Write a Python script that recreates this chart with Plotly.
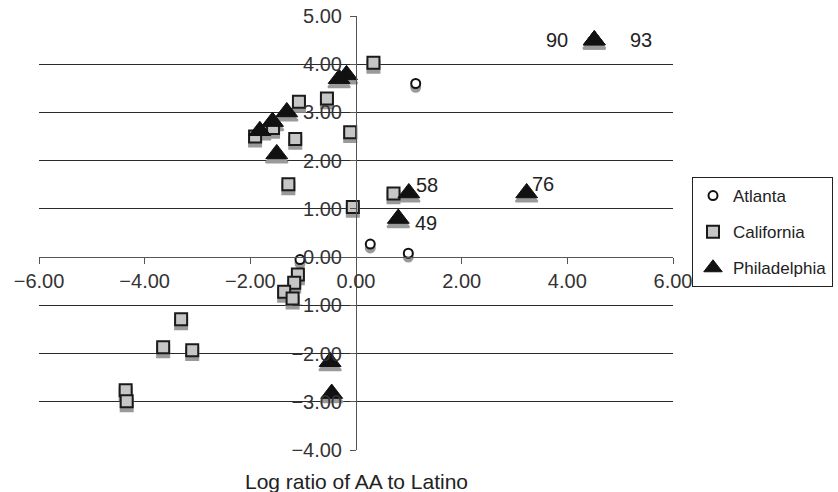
import plotly.graph_objects as go

# ---- data ----
atl_x = [1.13, 0.27, 0.99, -1.06]
atl_y = [3.60, 0.27, 0.08, -0.05]

cal_x = [0.33, -1.08, -0.55, -1.91, -1.57, -1.15, -0.11, -1.28, -0.06, 0.71,
         -1.10, -1.17, -1.36, -1.20, -3.31, -3.65, -3.10, -4.36, -4.34]
cal_y = [4.03, 3.22, 3.29, 2.50, 2.68, 2.45, 2.59, 1.51, 1.04, 1.32,
         -0.36, -0.53, -0.72, -0.86, -1.29, -1.87, -1.93, -2.76, -2.99]

phi_x = [4.51, 4.51, -0.32, -0.18, -1.31, -1.58, -1.82, -1.50, 1.00, 0.80, 3.23, -0.49, -0.46]
phi_y = [4.50, 4.50, 3.70, 3.78, 3.01, 2.81, 2.62, 2.14, 1.33, 0.80, 1.33, -2.17, -2.83]

# labelled points: text, x, y
lab_text = ["90", "93", "58", "76", "49"]
lab_x = [4.51, 4.51, 1.00, 3.23, 0.80]
lab_y = [4.50, 4.50, 1.33, 1.33, 0.80]
lab_dx = [-37, 47, 18, 16, 28]
lab_dy = [0, 0, 8, 9, -4]

x_ticks = [-6, -4, -2, 0, 2, 4, 6]
y_ticks = [-4, -3, -2, -1, 0, 1, 2, 3, 4, 5]

FONT = "Liberation Sans, Arial, sans-serif"
SH = 0.08  # shadow offset in y units

fig = go.Figure()

# shadows
for xs, ys, sym, size in [(atl_x, atl_y, "circle", 9), (cal_x, cal_y, "square", 12),
                          (phi_x, phi_y, "triangle-up", 19)]:
    fig.add_trace(go.Scatter(
        x=xs, y=[v - SH for v in ys], mode="markers", showlegend=False, hoverinfo="skip",
        marker=dict(symbol=sym, size=size, color="#9a9a9a", line=dict(color="#9a9a9a", width=2))))

fig.add_trace(go.Scatter(
    x=atl_x, y=atl_y, mode="markers", name="Atlanta", legendgroup="a",
    marker=dict(symbol="circle", size=9, color="white", line=dict(color="#111", width=2))))
fig.add_trace(go.Scatter(
    x=cal_x, y=cal_y, mode="markers", name="California", legendgroup="c",
    marker=dict(symbol="square", size=12, color="#c6c6c6", line=dict(color="#1a1a1a", width=2))))
fig.add_trace(go.Scatter(
    x=phi_x, y=phi_y, mode="markers", name="Philadelphia", legendgroup="p",
    marker=dict(symbol="triangle-up", size=19, color="#111", line=dict(color="#111", width=1))))

for t, x, y, dx, dy in zip(lab_text, lab_x, lab_y, lab_dx, lab_dy):
    fig.add_annotation(x=x, y=y, text=t, showarrow=False, xshift=dx, yshift=dy,
                       font=dict(family=FONT, size=20, color="#222"))

fig.add_annotation(x=0.5, y=-0.072, xref="paper", yref="paper", text="Log ratio of AA to Latino",
                   showarrow=False, yanchor="middle", font=dict(family=FONT, size=21, color="#222"))

fig.update_layout(
    width=838, height=492,
    margin=dict(l=39, r=165, t=16, b=42),
    paper_bgcolor="white", plot_bgcolor="white",
    font=dict(family=FONT, size=20, color="#333"),
    showlegend=True,
    legend=dict(xref="container", yref="container", x=692 / 838, y=1 - 177 / 492,
                xanchor="left", yanchor="top",
                bordercolor="#222", borderwidth=1, bgcolor="white",
                font=dict(family=FONT, size=17, color="#222"),
                traceorder="grouped", tracegroupgap=11, itemwidth=30),
    xaxis=dict(range=[-6, 6], tickvals=x_ticks, tickformat=".2f", automargin=False,
               showgrid=False, zeroline=False, showline=True, linecolor="#555", linewidth=1,
               ticks="outside", ticklen=6, tickcolor="#555",
               anchor="free", position=4 / 9),
    yaxis=dict(range=[-4, 5], tickvals=y_ticks, tickformat=".2f", automargin=False,
               showgrid=True, gridcolor="#2a2a2a", gridwidth=1.2, zeroline=False,
               showline=True, linecolor="#555", linewidth=1,
               ticks="outside", ticklen=6, tickcolor="#555", ticklabelstandoff=4,
               anchor="free", position=0.5),
)

fig.write_html("out.html")
